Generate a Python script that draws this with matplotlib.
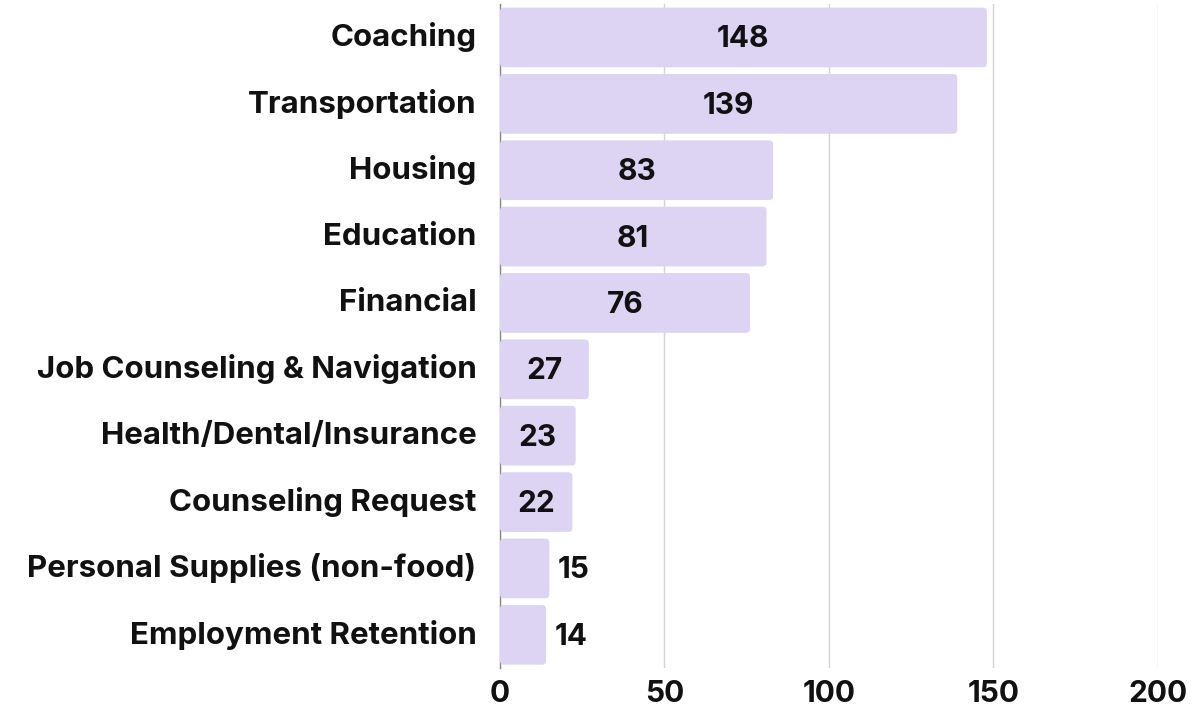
import matplotlib
matplotlib.use("Agg")
import matplotlib.pyplot as plt
from matplotlib.patches import FancyBboxPatch

# data
categories = ["Coaching", "Transportation", "Housing", "Education", "Financial",
              "Job Counseling & Navigation", "Health/Dental/Insurance",
              "Counseling Request", "Personal Supplies (non-food)",
              "Employment Retention"]
counts = [148, 139, 83, 81, 76, 27, 23, 22, 15, 14]
xticks = [0, 50, 100, 150, 200]

bar_color = "#ddd4f4"
text_color = "#111111"
plt.rcParams['font.family'] = ['Inter', 'DejaVu Sans']

fig = plt.figure(figsize=(11.95, 7.11), dpi=100)
ax = fig.add_axes([0.4184, 0.0605, 0.5506, 0.9335])

ypos = list(range(len(categories)))
bar_h = 0.9
# rounded bars: rounding in x data units, aspect fixes y
for y, v in zip(ypos, counts):
    p = FancyBboxPatch((0, y - bar_h / 2), v, bar_h,
                       boxstyle="round,pad=0,rounding_size=1.3",
                       mutation_aspect=0.045,
                       facecolor=bar_color, edgecolor="none", zorder=3)
    ax.add_patch(p)
    if v >= 20:
        ax.text(v / 2, y + 0.03, str(v), ha="center", va="center",
                fontsize=21.5, fontweight="bold", color=text_color, zorder=4)
    else:
        ax.text(v + 2.5, y + 0.03, str(v), ha="left", va="center",
                fontsize=21.5, fontweight="bold", color=text_color, zorder=4)

ax.set_xlim(0, 200)
ax.set_ylim(len(categories) - 0.5, -0.5)
ax.set_xticks(xticks)
ax.set_xticklabels([str(t) for t in xticks], fontsize=21.5, fontweight="bold",
                   color=text_color)
ax.set_yticks(ypos)
ax.set_yticklabels(categories, fontsize=22.5, fontweight="bold", color=text_color,
                   va="center")
for lbl in ax.get_yticklabels():
    lbl.set_y(lbl.get_position()[1])
ax.tick_params(axis="both", length=0)
ax.tick_params(axis="y", pad=17)
ax.tick_params(axis="x", pad=9)

ax.grid(axis="x", color="#d4d4d4", linewidth=1, zorder=0)
ax.set_axisbelow(True)
for s in ["top", "right", "bottom"]:
    ax.spines[s].set_visible(False)
ax.spines["left"].set_color("#888888")
ax.spines["left"].set_linewidth(1)
ax.spines["left"].set_zorder(1)

fig.savefig("out.png", dpi=100)
